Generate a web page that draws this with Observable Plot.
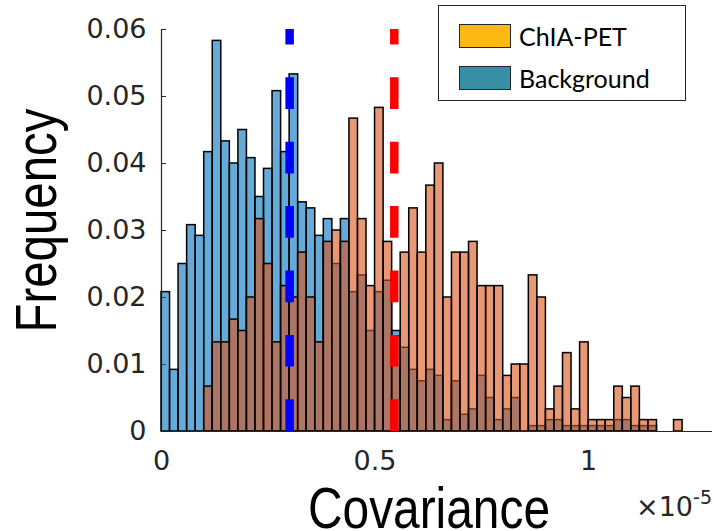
<!DOCTYPE html>
<html>
<head>
<meta charset="utf-8">
<script src="https://cdn.jsdelivr.net/npm/d3@7"></script>
<script src="https://cdn.jsdelivr.net/npm/@observablehq/plot@0.6"></script>
<style>
  html, body { margin: 0; padding: 0; background: #fff; }
  #wrap { position: relative; width: 714px; height: 531px; overflow: hidden; }
  #wrap svg { display: block; }
  #legend { position: absolute; left: 438px; top: 5px; width: 248px; height: 96px;
            border: 1px solid #262626; box-sizing: border-box; background: #fff;
            font-family: Lato, "Open Sans", sans-serif; font-size: 25px; color: #000; }
  .item { position: absolute; left: 20px; height: 24px; display: flex; align-items: center; white-space: nowrap; }
  .sw { width: 52px; height: 24px; border: 1px solid #262626; box-sizing: border-box; margin-right: 8px; }
</style>
</head>
<body>
<div id="wrap"></div>
<script>
// ---- data (x in units of 1e-5) ----
const binWidth = 0.02;
const background = [
  0.0208, 0.0092, 0.0250, 0.0308, 0.0292, 0.0417, 0.0583, 0.0433, 0.0400, 0.0450,
  0.0408, 0.0350, 0.0392, 0.0508, 0.0417, 0.0533, 0.0342, 0.0333, 0.0292, 0.0317,
  0.0250, 0.0317, 0.0208, 0.0233, 0.0150, 0.0208, 0.0225, 0.0150, 0.0125, 0.0092,
  0.0075, 0.0092, 0.0083, 0.0017, 0.0075, 0.0025, 0.0033, 0.0083, 0.0050, 0.0017,
  0.0033, 0.0050, 0,      0.0008, 0.0008, 0.0017, 0.0017, 0.0008, 0.0008, 0.0008,
  0.0008, 0.0008, 0.0008, 0.0017, 0.0017, 0.0008, 0.0008, 0.0008, 0,      0,
  0
];
const chiaPet = [
  0,      0,      0,      0,      0,      0.0067, 0.0133, 0.0133, 0.0167, 0.0150,
  0.0200, 0.0317, 0.0250, 0.0133, 0.0217, 0.0200, 0.0267, 0.0200, 0.0133, 0.0283,
  0.0300, 0.0283, 0.0467, 0.0317, 0.0217, 0.0483, 0.0283, 0.0142, 0.0267, 0.0333,
  0.0267, 0.0367, 0.0400, 0.0200, 0.0267, 0.0267, 0.0283, 0.0217, 0.0217, 0.0217,
  0.0083, 0.0100, 0.0100, 0.0233, 0.0200, 0.0033, 0.0067, 0.0117, 0.0033, 0.0133,
  0.0017, 0.0017, 0.0017, 0.0067, 0.0050, 0.0067, 0.0017, 0.0017, 0,      0,
  0.0017
];
const markerValues = [0.30, 0.545];          // Background, ChIA-PET dashed lines
const markerColors = ["#0000ff", "#ff0000"];
const xTicks = [0, 0.5, 1];
const xTickLabels = ["0", "0.5", "1"];
const yTicks = [0, 0.01, 0.02, 0.03, 0.04, 0.05, 0.06];
const yTickLabels = ["0", "0.01", "0.02", "0.03", "0.04", "0.05", "0.06"];
const seriesNames = ["ChIA-PET", "Background"];
const legendColors = ["#fdb813", "#368fa6"];

// ---- build tables ----
const toRows = (arr, series) => arr.map((v, i) => ({series, x1: i * binWidth, x2: (i + 1) * binWidth, v})).filter(d => d.v > 0);
const bgRows = toRows(background, "Background");
const chRows = toRows(chiaPet, "ChIA-PET");
const markers = markerValues.map((v, i) => ({v, c: markerColors[i]}));

const tickFont = "DejaVu Sans, sans-serif";
const labelFont = "'Liberation Sans', Arial, sans-serif";

const plot = Plot.plot({
  width: 714,
  height: 531,
  marginLeft: 161,
  marginTop: 29,
  marginBottom: 100,
  marginRight: 2,
  style: {background: "#fff", overflow: "visible"},
  x: {domain: [0, 1.29]},
  y: {domain: [0, 0.06]},
  marks: [
    Plot.axisY({ticks: yTicks, tickFormat: d => yTickLabels[yTicks.indexOf(d)], tickSize: -5, tickPadding: 20,
                fontSize: 27, fontFamily: tickFont, color: "#262626", label: null}),
    Plot.axisX({ticks: xTicks, tickFormat: d => xTickLabels[xTicks.indexOf(d)], tickSize: 0, tickPadding: 19,
                fontSize: 27, fontFamily: tickFont, color: "#262626", label: null}),
    Plot.ruleX([0], {y1: 0, y2: 0.06, stroke: "#262626", strokeWidth: 1.2}),
    Plot.rectY(bgRows, {x1: "x1", x2: "x2", y: "v", fill: "rgb(0,114,189)", fillOpacity: 0.6, stroke: "black", strokeWidth: 1.5}),
    Plot.rectY(chRows, {x1: "x1", x2: "x2", y: "v", fill: "rgb(217,83,25)", fillOpacity: 0.6, stroke: "black", strokeWidth: 1.5}),
    Plot.ruleY([0], {stroke: "#262626", strokeWidth: 1.2}),
    Plot.ruleX(markers, {x: "v", y1: 0, y2: 0.06, stroke: "c", strokeWidth: 8.5, strokeDasharray: "31.7,32.7"}),
    Plot.text(["Frequency"], {text: d => d, frameAnchor: "left", textAnchor: "middle", rotate: -90, dx: -106, dy: -10,
                              lineAnchor: "bottom", fontSize: 58, fontFamily: labelFont, fill: "black", className: "ylab"}),
    Plot.text(["Covariance"], {text: d => d, frameAnchor: "bottom", textAnchor: "middle", dx: -8, dy: 96, lineAnchor: "bottom",
                               fontSize: 58, fontFamily: labelFont, fill: "black", className: "xlab"})
  ]
});

const svg = d3.select(plot);
// narrow the axis titles (reference uses a condensed Helvetica)
svg.selectAll(".ylab text").attr("textLength", 224).attr("lengthAdjust", "spacingAndGlyphs");
svg.selectAll(".xlab text").attr("textLength", 242).attr("lengthAdjust", "spacingAndGlyphs");

// exponent label "×10^-5"
const ex = svg.append("text")
  .attr("x", 712).attr("y", 516)
  .attr("text-anchor", "end")
  .attr("fill", "#262626")
  .attr("font-family", "DejaVu Sans, sans-serif");
ex.append("tspan").attr("font-size", 27).text("×10");
ex.append("tspan").attr("font-size", 19).attr("dy", -12).text("-5");

const wrap = document.getElementById("wrap");
wrap.appendChild(plot);

// legend
const legend = document.createElement("div");
legend.id = "legend";
seriesNames.forEach((name, i) => {
  const item = document.createElement("div");
  item.className = "item";
  item.style.top = (i === 0 ? 18 : 60) + "px";
  const sw = document.createElement("span");
  sw.className = "sw";
  sw.style.background = legendColors[i];
  const label = document.createElement("span");
  label.textContent = name;
  item.appendChild(sw);
  item.appendChild(label);
  legend.appendChild(item);
});
wrap.appendChild(legend);
</script>
</body>
</html>
